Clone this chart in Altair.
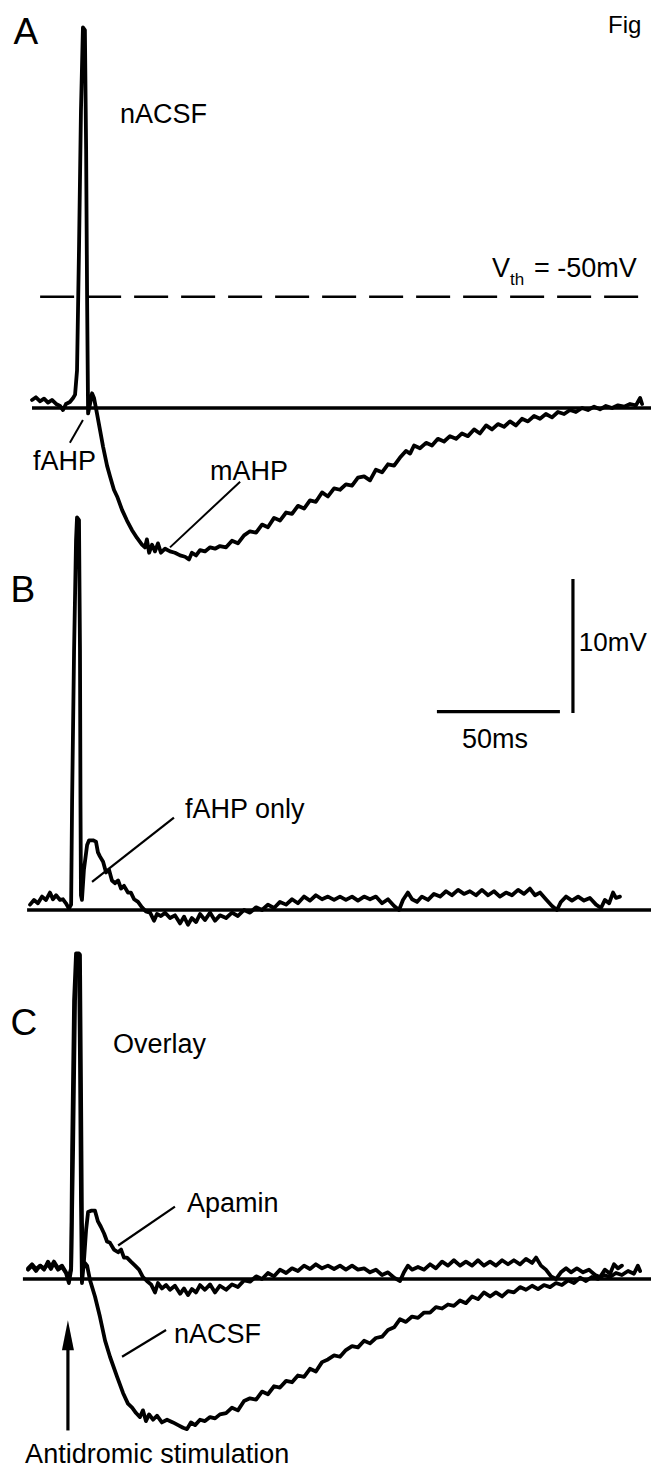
import altair as alt
import pandas as pd

# ---------------- data: time in ms after antidromic stimulus, membrane potential in mV relative to rest
a_t = [-18.7, -17.1, -15.4, -13.8, -12.2, -10.6, -8.9, -7.3, -6.1, -4.9,
       -3.3, -2.0, -1.2, -0.4, 0.4, 1.2, 2.0, 2.8, 3.3, 3.7,
       4.1, 4.9, 5.7, 6.5, 7.7, 8.9, 10.2, 11.8, 13.0, 14.6,
       15.9, 17.9, 19.9, 21.9, 24.0, 26.0, 27.2, 28.0, 28.9, 30.1,
       31.3, 32.5, 33.7, 35.4, 37.4, 39.4, 41.5, 43.5, 45.1, 46.3,
       48.0, 49.6, 51.6, 53.7, 55.7, 57.7, 60.2, 62.6, 65.0, 67.5,
       69.9, 72.4, 74.8, 77.2, 79.7, 82.1, 84.6, 87.0, 89.4, 91.9,
       94.3, 96.7, 99.2, 101.6, 104.1, 106.5, 108.9, 111.4, 113.8, 116.3,
       118.7, 121.1, 123.6, 126.0, 128.5, 130.9, 133.3, 135.0, 136.6, 139.0,
       141.5, 143.9, 146.3, 148.8, 151.2, 153.7, 156.1, 158.5, 161.0, 163.4,
       165.9, 168.3, 170.7, 173.2, 175.6, 178.0, 180.5, 182.9, 185.4, 187.8,
       190.2, 192.7, 195.1, 197.6, 200.0, 202.4, 204.9, 207.3, 209.8, 212.2,
       214.6, 217.1, 219.5, 222.0, 224.4, 226.8, 228.5, 229.3]
a_v = [0.6, 0.8, 0.5, 0.7, 0.4, 0.6, 0.3, 0.15, -0.15, 0.3,
       0.45, 0.75, 1.0, 2.8, 11.8, 22.2, 28.4, 28.2, 19.3, 8.1,
       -0.4, 0.3, 1.1, 0.75, -0.4, -1.6, -2.9, -4.3, -5.1, -6.1,
       -6.6, -7.6, -8.4, -9.1, -9.7, -10.2, -10.4, -9.8, -10.8, -10.2,
       -10.7, -10.1, -10.8, -10.5, -10.7, -10.8, -11.0, -11.1, -11.3, -10.8,
       -11.0, -10.6, -10.7, -10.4, -10.5, -10.3, -10.4, -9.9, -10.1, -9.5,
       -9.2, -9.3, -8.7, -8.9, -8.2, -8.4, -7.8, -7.9, -7.3, -7.5,
       -6.9, -7.0, -6.3, -6.6, -6.0, -6.1, -5.7, -5.8, -5.2, -5.1,
       -5.4, -4.6, -4.8, -4.2, -4.3, -3.7, -3.2, -3.4, -2.8, -3.0,
       -2.6, -2.8, -2.3, -2.5, -2.1, -2.3, -1.9, -2.1, -1.6, -1.9,
       -1.3, -1.6, -1.2, -1.4, -1.0, -1.3, -0.8, -1.0, -0.6, -0.8,
       -0.45, -0.7, -0.3, -0.45, -0.15, -0.3, 0.0, -0.15, 0.1, -0.1,
       0.15, 0.0, 0.2, 0.1, 0.3, 0.2, 0.75, 0.3]

b_t = [-19.5, -17.9, -16.3, -14.6, -13.0, -11.4, -10.2, -8.9, -7.3, -6.1,
       -4.9, -3.7, -2.8, -2.4, -1.6, -0.8, -0.4, 0.4, 0.8, 1.0,
       1.2, 1.6, 2.4, 3.7, 4.5, 6.1, 7.3, 8.1, 8.9, 10.2,
       11.4, 12.6, 13.8, 15.0, 16.3, 17.5, 18.7, 20.3, 21.5, 22.8,
       24.4, 26.0, 27.6, 29.3, 30.9, 32.1, 33.7, 35.4, 37.4, 39.4,
       41.5, 43.1, 44.7, 46.3, 48.0, 49.6, 51.6, 53.7, 55.7, 57.7,
       60.2, 62.6, 65.0, 67.5, 69.9, 72.4, 74.8, 77.2, 79.7, 82.1,
       84.6, 87.0, 89.4, 91.9, 94.3, 96.7, 99.2, 101.6, 104.1, 106.5,
       108.9, 111.4, 113.8, 116.3, 118.7, 121.1, 123.6, 126.0, 128.5, 130.5,
       132.1, 134.1, 135.8, 137.8, 139.8, 142.3, 144.7, 147.2, 149.6, 152.0,
       154.5, 156.9, 159.3, 161.8, 164.2, 166.7, 169.1, 171.5, 174.0, 176.4,
       178.9, 181.3, 183.7, 185.8, 187.8, 190.2, 192.7, 194.7, 196.3, 198.4,
       200.8, 203.3, 205.7, 208.1, 210.6, 212.6, 214.2, 215.9, 217.5, 218.7,
       220.3]
b_v = [0.4, 0.75, 0.5, 1.0, 0.75, 1.3, 0.8, 1.1, 0.75, 0.8,
       0.5, 0.1, 0.4, 8.2, 19.4, 27.6, 29.3, 29.1, 19.4, 8.2,
       1.1, 0.75, 3.0, 4.85, 5.2, 5.2, 5.1, 4.3, 4.0, 3.6,
       2.8, 3.0, 2.2, 2.0, 2.2, 1.6, 1.8, 1.3, 1.3, 0.8,
       0.6, 0.2, -0.1, -0.2, -0.8, -0.3, -0.45, -0.2, -0.6, -0.4,
       -1.0, -0.5, -1.1, -0.6, -0.9, -0.3, -0.75, -0.2, -0.8, -0.4,
       -0.6, -0.2, -0.45, 0.0, -0.2, 0.2, 0.0, 0.4, 0.15, 0.6,
       0.4, 0.8, 0.5, 1.0, 0.7, 1.1, 0.8, 1.0, 0.75, 1.0,
       0.75, 1.0, 0.7, 1.0, 0.8, 1.0, 0.5, 0.8, 0.3, 0.0,
       0.75, 1.3, 0.8, 0.6, 1.0, 0.75, 1.2, 1.0, 1.4, 1.1,
       1.5, 1.2, 1.4, 1.1, 1.5, 1.1, 1.4, 1.0, 1.3, 1.1,
       1.5, 1.2, 1.6, 1.1, 1.3, 0.8, 0.3, 0.0, 0.6, 1.0,
       0.7, 1.0, 0.7, 0.9, 0.4, 0.15, 0.75, 0.5, 1.3, 0.9,
       1.0]

c_apamin_t = [-20.3, -18.7, -17.1, -15.4, -13.8, -12.2, -11.0, -9.8, -8.1, -6.5,
              -4.9, -3.7, -2.8, -2.4, -1.6, -0.8, 0.4, 0.8, 1.2, 1.6,
              2.4, 3.3, 4.1, 5.3, 6.9, 8.1, 9.3, 10.6, 11.8, 13.0,
              14.6, 16.3, 17.5, 18.7, 19.9, 21.5, 23.2, 24.8, 26.4, 28.0,
              29.7, 31.3, 32.5, 34.1, 35.8, 37.4, 39.4, 41.5, 43.1, 44.7,
              46.3, 48.0, 49.6, 51.6, 53.7, 55.7, 57.7, 60.2, 62.6, 65.0,
              67.5, 69.9, 72.4, 74.8, 77.2, 79.7, 82.1, 84.6, 87.0, 89.4,
              91.9, 94.3, 96.7, 99.2, 101.6, 104.1, 106.5, 108.9, 111.4, 113.8,
              116.3, 118.7, 121.1, 123.6, 126.0, 128.5, 130.9, 132.5, 134.1, 135.8,
              138.2, 140.7, 143.1, 145.5, 148.0, 150.4, 152.8, 155.3, 157.7, 160.2,
              162.6, 165.0, 167.5, 169.9, 172.4, 174.8, 177.2, 179.7, 182.1, 184.6,
              186.2, 188.2, 190.2, 192.3, 194.3, 196.3, 198.4, 200.4, 202.8, 205.3,
              207.7, 210.2, 212.2, 214.2, 216.3, 217.9, 219.5, 221.1]
c_apamin_v = [0.8, 1.1, 0.75, 1.0, 0.7, 1.3, 0.9, 1.3, 0.8, 1.0,
              0.5, 0.2, 0.8, 9.6, 20.8, 24.3, 24.3, 16.3, 5.9, -0.3,
              1.3, 3.7, 5.0, 5.1, 5.1, 4.3, 3.9, 3.4, 2.8, 2.7,
              2.2, 2.0, 2.2, 1.6, 1.6, 1.3, 1.0, 0.7, 0.15, -0.15,
              -0.4, -1.0, -0.3, -0.7, -0.45, -0.8, -0.5, -1.1, -0.7, -1.2,
              -0.75, -1.0, -0.45, -0.8, -0.4, -1.0, -0.5, -0.8, -0.4, -0.6,
              -0.1, -0.2, 0.2, 0.0, 0.45, 0.2, 0.7, 0.45, 0.8, 0.6,
              1.0, 0.75, 1.1, 0.8, 1.0, 0.75, 1.0, 0.7, 1.0, 0.7,
              0.8, 0.5, 0.7, 0.3, 0.5, 0.1, -0.15, 0.5, 1.0, 0.7,
              0.9, 0.7, 1.1, 0.8, 1.3, 1.0, 1.4, 1.0, 1.3, 1.0,
              1.4, 1.0, 1.3, 1.0, 1.4, 1.1, 1.4, 1.1, 1.5, 1.2,
              1.6, 1.0, 0.7, 0.2, 0.0, 0.5, 0.8, 0.5, 0.8, 0.5,
              0.7, 0.3, 0.15, 0.7, 0.4, 1.1, 0.8, 1.0]

c_nacsf_t = [-20.3, -18.7, -17.1, -15.4, -13.8, -12.2, -11.0, -9.8, -8.1, -6.5,
             -4.9, -3.7, -2.8, -2.0, -1.2, -0.4, 0.8, 1.2, 1.6, 2.0,
             2.8, 3.7, 4.9, 6.9, 8.9, 11.0, 13.0, 15.9, 18.3, 20.3,
             22.0, 23.6, 25.2, 26.4, 27.6, 28.9, 30.5, 32.1, 34.1, 36.2,
             38.6, 40.7, 42.7, 44.3, 45.9, 47.6, 49.6, 51.6, 53.7, 55.7,
             57.7, 60.2, 62.6, 65.0, 67.5, 69.9, 72.4, 74.8, 77.2, 79.7,
             82.1, 84.6, 87.0, 89.4, 91.9, 94.3, 96.7, 99.2, 101.6, 104.1,
             106.5, 108.9, 111.4, 113.8, 116.3, 118.7, 121.1, 123.6, 126.0, 128.5,
             130.9, 133.3, 135.8, 138.2, 140.7, 143.1, 145.5, 148.0, 150.4, 152.8,
             155.3, 157.7, 160.2, 162.6, 165.0, 167.5, 169.9, 172.4, 174.8, 177.2,
             179.7, 182.1, 184.6, 187.0, 189.4, 191.9, 194.3, 196.7, 199.2, 201.6,
             204.1, 206.5, 208.9, 211.4, 213.8, 216.3, 218.7, 221.1, 223.6, 226.0,
             227.6, 228.5]
c_nacsf_v = [0.7, 1.0, 0.6, 1.0, 0.8, 1.1, 0.75, 1.2, 0.7, 0.9,
             0.45, -0.3, 0.7, 9.6, 20.8, 24.2, 24.2, 14.9, 4.4, 0.7,
             1.2, 1.0, -0.1, -1.3, -2.8, -4.6, -5.8, -7.3, -8.5, -9.3,
             -9.6, -10.0, -10.3, -9.8, -10.6, -10.1, -10.5, -10.2, -10.7, -10.5,
             -10.7, -10.9, -11.1, -11.2, -10.7, -10.9, -10.5, -10.6, -10.3, -10.4,
             -10.1, -10.0, -9.6, -9.8, -9.1, -8.9, -9.0, -8.4, -8.6, -8.0,
             -8.1, -7.6, -7.7, -7.2, -7.3, -6.7, -6.9, -6.2, -6.0, -5.7,
             -5.8, -5.3, -5.0, -5.1, -4.6, -4.8, -4.4, -4.3, -3.8, -3.6,
             -3.0, -3.2, -2.8, -2.9, -2.5, -2.5, -2.1, -2.2, -1.9, -2.0,
             -1.6, -1.8, -1.3, -1.5, -1.0, -1.3, -1.0, -1.3, -0.9, -1.0,
             -0.6, -0.8, -0.5, -0.75, -0.45, -0.6, -0.3, -0.45, -0.1, -0.3,
             0.1, -0.15, 0.15, 0.0, 0.3, 0.15, 0.45, 0.3, 0.6, 0.4,
             1.0, 0.6]

REST_MV = -58.3       # resting potential
VTH_MV = -50.0        # spike threshold
SCALE_MV = 10         # vertical calibration bar
SCALE_MS = 50         # horizontal calibration bar

panel_letters = ["A", "B", "C"]
label_nacsf = "nACSF"
label_fahp = "fAHP"
label_mahp = "mAHP"
label_fahp_only = "fAHP only"
label_overlay = "Overlay"
label_apamin = "Apamin"
label_stim = "Antidromic stimulation"

# ---------------- layout
FONT = "Liberation Sans"
X_DOMAIN = [-28.46, 232.93]
Y_DOMAIN = [-79.40, 29.85]
PANEL_OFFSET = {"A": 0.0, "B": -37.46, "C": -65.0}
X_END = 240.0

xs = alt.Scale(domain=X_DOMAIN, nice=False, zero=False)
ys = alt.Scale(domain=Y_DOMAIN, nice=False, zero=False)


def place(df):
    df = df.copy()
    df["y"] = df["v"] + df["panel"].map(PANEL_OFFSET)
    if "v2" in df:
        df["y2"] = df["v2"] + df["panel"].map(PANEL_OFFSET)
    return df


traces = []
for name, panel, ts, vs in [("A", "A", a_t, a_v), ("B", "B", b_t, b_v),
                            ("C_apamin", "C", c_apamin_t, c_apamin_v),
                            ("C_nacsf", "C", c_nacsf_t, c_nacsf_v)]:
    d = pd.DataFrame({"t": ts, "v": vs})
    d["trace"] = name
    d["panel"] = panel
    d["i"] = range(len(d))
    traces.append(d)
trace_df = place(pd.concat(traces, ignore_index=True))

dvth = VTH_MV - REST_MV
solid_rules = pd.DataFrame([
    # panel, t, v, t2, v2, width
    ("A", -18.7, 0.0, X_END, 0.0, 3.6),
    ("A", -3.3, -2.6, 2.0, -0.9, 2.0),
    ("A", 65.9, -5.5, 37.4, -10.4, 2.0),
    ("B", -20.7, 0.0, X_END, 0.0, 3.6),
    ("B", 201.2, 14.7, 201.2, 14.7 + SCALE_MV, 3.2),
    ("B", 145.9, 14.8, 145.9 + SCALE_MS, 14.8, 3.4),
    ("B", 39.0, 6.9, 5.7, 2.1, 2.2),
    ("C", -22.4, 0.0, X_END, 0.0, 3.6),
    ("C", 39.4, 5.4, 16.3, 2.5, 2.2),
    ("C", 35.8, -3.8, 17.9, -5.8, 2.2),
    ("C", -4.1, -11.3, -4.1, -4.8, 3.2),
], columns=["panel", "t", "v", "t2", "v2", "w"])
solid_rules = place(solid_rules)

dashed_rules = place(pd.DataFrame([("A", -15.4, dvth, X_END, dvth)],
                                  columns=["panel", "t", "v", "t2", "v2"]))

texts = pd.DataFrame([
    ("A", panel_letters[0], -26.2, 27.2, 37),
    ("A", "Fig", 215.5, 28.0, 24),
    ("A", label_nacsf, 17.1, 21.3, 27),
    ("A", label_fahp, -18.3, -4.6, 27),
    ("A", label_mahp, 53.7, -5.4, 27),
    ("A", "V", 168.3, 9.8, 27),
    ("A", "th", 175.6, 9.2, 17),
    ("A", f"= {VTH_MV:.0f}mV", 185.4, 9.8, 27),
    ("B", panel_letters[1], -27.4, 23.0, 37),
    ("B", f"{SCALE_MV}mV", 203.6, 19.3, 26),
    ("B", f"{SCALE_MS}ms", 156.1, 12.1, 27),
    ("B", label_fahp_only, 43.5, 6.9, 27),
    ("C", panel_letters[2], -27.4, 18.2, 37),
    ("C", label_overlay, 14.2, 16.9, 27),
    ("C", label_apamin, 44.3, 5.0, 27),
    ("C", label_nacsf, 39.0, -4.8, 27),
    ("C", label_stim, -21.5, -13.7, 27),
], columns=["panel", "label", "t", "v", "size"])
texts = place(texts)

arrow_head = place(pd.DataFrame([("C", -4.1, -4.2)], columns=["panel", "t", "v"]))

X = alt.X("t:Q", scale=xs, axis=None)
Y = alt.Y("y:Q", scale=ys, axis=None)

lines = alt.Chart(trace_df).mark_line(
    color="black", strokeWidth=3.8, strokeJoin="round", strokeCap="round"
).encode(x=X, y=Y, detail="trace:N", order="i:Q")

rules = alt.Chart(solid_rules).mark_rule(color="black", strokeCap="butt").encode(
    x=X, x2="t2:Q", y=Y, y2="y2:Q",
    strokeWidth=alt.StrokeWidth("w:Q", scale=None),
)

dashes = alt.Chart(dashed_rules).mark_rule(
    color="black", strokeWidth=2.4, strokeDash=[34, 13]
).encode(x=X, x2="t2:Q", y=Y, y2="y2:Q")

labels = alt.Chart(texts).mark_text(
    align="left", baseline="alphabetic", font=FONT, color="black"
).encode(x=X, y=Y, text="label:N", size=alt.Size("size:Q", scale=None))

head = alt.Chart(arrow_head).mark_point(
    shape="M0,-1L0.4,1L-0.4,1Z", filled=True, color="black", opacity=1, size=900
).encode(x=X, y=Y)

chart = alt.layer(dashes, rules, lines, labels, head).properties(
    width=643, height=1464,
    autosize=alt.AutoSizeParams(type="none"),
    padding=0,
    background="white",
).configure_view(stroke=None)

chart.save("out.html", embed_options={"renderer": "svg", "actions": False})
